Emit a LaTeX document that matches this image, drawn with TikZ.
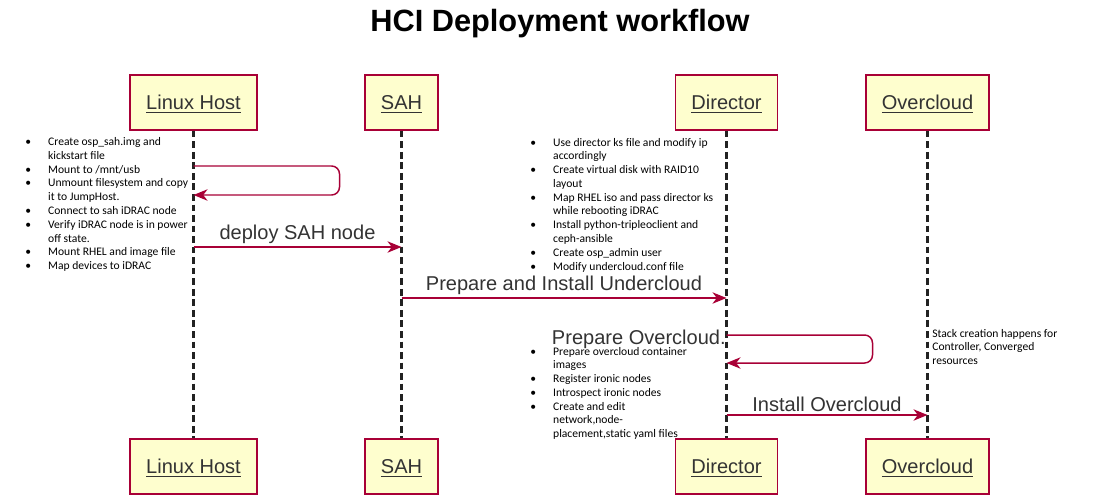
\documentclass[tikz,border=0pt]{standalone}
\usepackage{fontspec}
\setmainfont{Liberation Sans}
\newfontfamily\notefont{Carlito}
\usepackage{xcolor}
\usepackage{tikz}
\usetikzlibrary{arrows.meta, positioning}
\definecolor{umlred}{HTML}{A80036}
\definecolor{umlyellow}{HTML}{FEFECE}
\definecolor{umlgray}{HTML}{333333}
\definecolor{umldark}{HTML}{222222}
\newcommand{\notes}{\notefont\fontsize{6.6}{7.85}\selectfont}

\begin{document}
\begin{tikzpicture}[x=0.02cm, y=-0.02cm,
  part/.style={draw=umlred, fill=umlyellow, line width=0.85pt, minimum height=1.1cm, inner xsep=0.32cm, text depth=0pt, font=\fontsize{11.4}{13}\selectfont, text=umlgray},
  life/.style={umldark, line width=1.2pt, dash pattern=on 3.8pt off 2.2pt},
  msg/.style={umlred, line width=0.85pt, -{Stealth[length=8pt, width=6.5pt, inset=2.5pt]}},
  lbl/.style={font=\fontsize{11.4}{13}\selectfont, inner sep=1.5pt, text=umlgray},
  note/.style={anchor=north west, inner sep=0pt, font=\notes}
]
  \useasboundingbox (0,0) rectangle (1097,500);

  \node[font=\bfseries\fontsize{17.5}{21}\selectfont] (title) at (560,24) {HCI Deployment workflow};

  \node[part] (lhT) at (193.5,102.5) {\underline{Linux Host}};
  \node[part] (sahT) at (401.5,102.5) {\underline{SAH}};
  \node[part] (dirT) at (726.5,102.5) {\underline{Director}};
  \node[part] (ocT) at (927.5,102.5) {\underline{Overcloud}};
  \node[part] (lhB) at (193.5,466.5) {\underline{Linux Host}};
  \node[part] (sahB) at (401.5,466.5) {\underline{SAH}};
  \node[part] (dirB) at (726.5,466.5) {\underline{Director}};
  \node[part] (ocB) at (927.5,466.5) {\underline{Overcloud}};

  \draw[life] (lhT) -- (lhB);
  \draw[life] (sahT) -- (sahB);
  \draw[life] (dirT) -- (dirB);
  \draw[life] (ocT) -- (ocB);

  \coordinate (lh1) at (lhT |- 0,166);
  \coordinate (lh2) at (lhT |- 0,195);
  \coordinate (lh3) at (lhT |- 0,247);
  \coordinate (sah3) at (sahT |- 0,247);
  \coordinate (sah4) at (sahT |- 0,298);
  \coordinate (dir4) at (dirT |- 0,298);
  \coordinate (dir5) at (dirT |- 0,335);
  \coordinate (dir6) at (dirT |- 0,363);
  \coordinate (dir7) at (dirT |- 0,415);
  \coordinate (oc7) at (ocT |- 0,415);

  \draw[msg, rounded corners=4.5pt] (lh1) -- ++(146,0) |- (lh2);
  \draw[msg] (lh3) -- node[lbl, above] {deploy SAH node} (sah3);
  \draw[msg] (sah4) -- node[lbl, above] {Prepare and Install Undercloud} (dir4);
  \draw[msg, rounded corners=4.5pt] (dir5) -- ++(146,0) |- (dir6);
  \node[lbl, anchor=base west] (prep) at (549,344) {Prepare Overcloud.};
  \draw[msg] (dir7) -- node[lbl, above] {Install Overcloud} (oc7);

  \node[note] (lhnote) at (25,135.5) {\begin{tabular}{@{}p{13pt}@{}l@{}}
    \textbullet & Create osp\_sah.img and\\
     & kickstart file\\
    \textbullet & Mount to /mnt/usb\\
    \textbullet & Unmount filesystem and copy\\
     & it to JumpHost.\\
    \textbullet & Connect to sah iDRAC node\\
    \textbullet & Verify iDRAC node is in power\\
     & off state.\\
    \textbullet & Mount RHEL and image file\\
    \textbullet & Map devices to iDRAC
  \end{tabular}};
  \node[note] (dirnote) at (530,136) {\begin{tabular}{@{}p{13pt}@{}l@{}}
    \textbullet & Use director ks file and modify ip\\
     & accordingly\\
    \textbullet & Create virtual disk with RAID10\\
     & layout\\
    \textbullet & Map RHEL iso and pass director ks\\
     & while rebooting iDRAC\\
    \textbullet & Install python-tripleoclient and\\
     & ceph-ansible\\
    \textbullet & Create osp\_admin user\\
    \textbullet & Modify undercloud.conf file
  \end{tabular}};
  \node[note] (prepnote) at (530,345) {\begin{tabular}{@{}p{13pt}@{}l@{}}
    \textbullet & Prepare overcloud container\\
     & images\\
    \textbullet & Register ironic nodes\\
    \textbullet & Introspect ironic nodes\\
    \textbullet & Create and edit\\
     & network,node-\\
     & placement,static yaml files
  \end{tabular}};
  \node[note] (ocnote) at (932,327) {\begin{tabular}{@{}l@{}}
    Stack creation happens for\\
    Controller, Converged\\
    resources
  \end{tabular}};
\end{tikzpicture}
\end{document}
